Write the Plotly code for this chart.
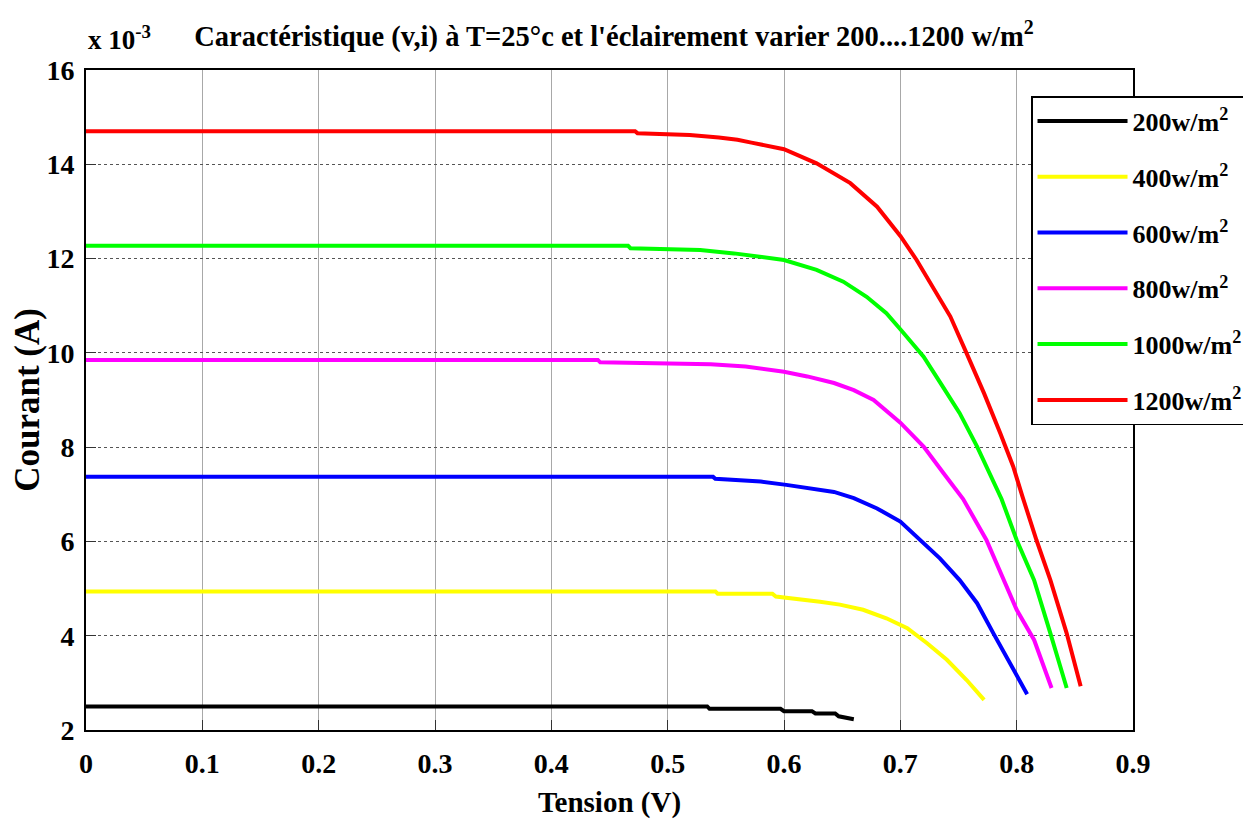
import plotly.graph_objects as go

# Data (current in units of 1e-3 A, voltage in V)
labels = ["200w/m<sup>2</sup>", "400w/m<sup>2</sup>", "600w/m<sup>2</sup>",
          "800w/m<sup>2</sup>", "1000w/m<sup>2</sup>", "1200w/m<sup>2</sup>"]
colors = ["#000000", "#ffff00", "#0000ff", "#ff00ff", "#00ff00", "#ff0000"]

v200 = [0, 0.534, 0.536, 0.597, 0.600, 0.624, 0.627, 0.644, 0.647, 0.660]
i200 = [2.50, 2.50, 2.45, 2.45, 2.40, 2.40, 2.35, 2.35, 2.29, 2.23]

v400 = [0, 0.541, 0.543, 0.590, 0.593, 0.614, 0.631, 0.648, 0.668, 0.688, 0.706,
        0.723, 0.740, 0.757, 0.772]
i400 = [4.94, 4.94, 4.89, 4.89, 4.83, 4.78, 4.72, 4.66, 4.55, 4.37, 4.16,
        3.84, 3.49, 3.06, 2.64]

v600 = [0, 0.539, 0.541, 0.580, 0.602, 0.620, 0.643, 0.660, 0.680, 0.700, 0.717,
        0.734, 0.751, 0.766, 0.780, 0.794, 0.809]
i600 = [7.37, 7.37, 7.33, 7.27, 7.20, 7.13, 7.05, 6.92, 6.70, 6.42, 6.03,
        5.64, 5.18, 4.69, 4.05, 3.42, 2.76]

v800 = [0, 0.440, 0.442, 0.537, 0.567, 0.588, 0.600, 0.620, 0.643, 0.660, 0.677,
        0.700, 0.720, 0.737, 0.754, 0.774, 0.786, 0.800, 0.815, 0.830]
i800 = [9.85, 9.85, 9.80, 9.76, 9.71, 9.65, 9.60, 9.50, 9.36, 9.21, 9.00,
        8.52, 8.01, 7.45, 6.90, 6.03, 5.33, 4.55, 3.91, 2.89]

v1000 = [0, 0.466, 0.468, 0.528, 0.557, 0.574, 0.600, 0.628, 0.651, 0.671, 0.688,
         0.700, 0.720, 0.734, 0.751, 0.766, 0.777, 0.787, 0.800, 0.815, 0.829, 0.843]
i1000 = [12.27, 12.27, 12.22, 12.18, 12.11, 12.06, 11.97, 11.76, 11.51, 11.19, 10.84,
         10.50, 9.92, 9.38, 8.72, 8.01, 7.45, 6.90, 6.03, 5.18, 4.05, 2.89]

v1200 = [0, 0.472, 0.474, 0.519, 0.544, 0.560, 0.572, 0.600, 0.628, 0.657, 0.680,
         0.700, 0.714, 0.728, 0.743, 0.757, 0.772, 0.786, 0.797, 0.805, 0.817,
         0.829, 0.843, 0.855]
i1200 = [14.70, 14.70, 14.66, 14.62, 14.57, 14.52, 14.46, 14.32, 14.02, 13.60, 13.10,
         12.48, 11.97, 11.40, 10.77, 9.99, 9.14, 8.29, 7.59, 6.95, 6.03,
         5.18, 4.05, 2.93]

x_ticks = [0, 0.1, 0.2, 0.3, 0.4, 0.5, 0.6, 0.7, 0.8, 0.9]
x_ticktext = ["0", "0.1", "0.2", "0.3", "0.4", "0.5", "0.6", "0.7", "0.8", "0.9"]
y_ticks = [2, 4, 6, 8, 10, 12, 14, 16]

series_v = [v200, v400, v600, v800, v1000, v1200]
series_i = [i200, i400, i600, i800, i1000, i1200]

FONT = "Liberation Serif, Times New Roman, serif"

fig = go.Figure()
for k in range(6):
    fig.add_trace(go.Scatter(
        x=series_v[k], y=series_i[k], mode="lines", name=labels[k],
        legendgroup=f"g{k}",
        line=dict(color=colors[k], width=4),
    ))

fig.update_layout(
    width=1243, height=812,
    margin=dict(l=78, r=118, t=62, b=90, autoexpand=False),
    paper_bgcolor="white", plot_bgcolor="white",
    font=dict(family=FONT, size=28, color="black", weight="bold"),
    title=dict(
        text="Caractéristique (v,i) à T=25°c et l'éclairement varier 200....1200 w/m<sup>2</sup>",
        x=0.4875, xanchor="center", y=0.965, yanchor="middle",
        font=dict(family=FONT, size=28.5, color="black", weight="bold"),
    ),
    xaxis=dict(
        range=[0, 0.9], tickvals=x_ticks, ticktext=x_ticktext,
        showgrid=True, gridcolor="#a8a8a8", gridwidth=1,
        ticks="inside", ticklen=10, tickcolor="#333", tickwidth=1,
        showline=True, linecolor="black", linewidth=2, mirror=True,
        zeroline=False, ticklabelstandoff=7,
        tickfont=dict(family=FONT, size=28, weight="bold"),
        title=dict(text="Tension (V)", standoff=14,
                   font=dict(family=FONT, size=29, weight="bold")),
    ),
    yaxis=dict(
        range=[2, 16], tickvals=y_ticks,
        showgrid=True, gridcolor="#555555", gridwidth=1, griddash="dot",
        ticks="inside", ticklen=10, tickcolor="#333", tickwidth=1,
        showline=True, linecolor="black", linewidth=2, mirror=True,
        zeroline=False, ticklabelstandoff=4,
        tickfont=dict(family=FONT, size=28, weight="bold"),
        title=dict(text="Courant (A)", standoff=24,
                   font=dict(family=FONT, size=35, weight="bold")),
    ),
    legend=dict(
        x=0.9026, xanchor="left", y=0.9606, yanchor="top",
        bgcolor="white", bordercolor="black", borderwidth=1.5,
        font=dict(family=FONT, size=26, color="black", weight="bold"),
        tracegroupgap=19, itemwidth=90,
    ),
    annotations=[
        dict(text="x 10<sup>-3</sup>", xref="paper", yref="paper",
             x=0, y=1, xanchor="left", yanchor="bottom", yshift=13, showarrow=False,
             font=dict(family=FONT, size=27, color="black", weight="bold")),
    ],
)

fig.write_html("out.html")
